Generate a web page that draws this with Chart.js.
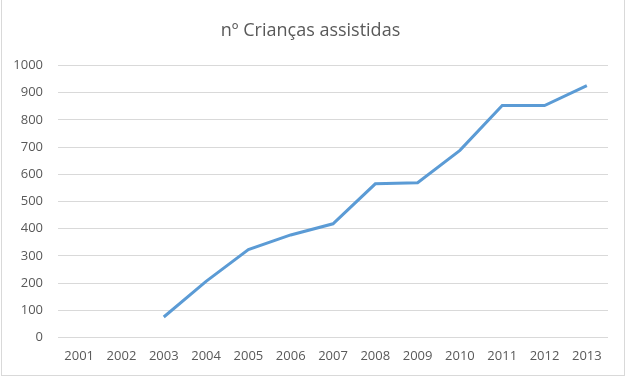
<!DOCTYPE html>
<html>
<head>
<meta charset="utf-8">
<script src="https://cdn.jsdelivr.net/npm/chart.js@4/dist/chart.umd.min.js"></script>
<style>
html,body{margin:0;padding:0;background:#fff;}
#wrap{position:relative;width:626px;height:378px;}
</style>
</head>
<body>
<div id="wrap"><canvas id="c" width="626" height="378"></canvas></div>
<script>
const categories = ['2001','2002','2003','2004','2005','2006','2007','2008','2009','2010','2011','2012','2013'];
const criancas = [null, null, 75, 206, 323, 377, 418, 565, 569, 688, 853, 853, 926];
const yTicks = [0,100,200,300,400,500,600,700,800,900,1000];
const chartTitle = 'nº Crianças assistidas';

const borderPlugin = {
  id: 'outerBorder',
  afterDraw(chart) {
    const ctx = chart.ctx;
    ctx.save();
    ctx.strokeStyle = '#d9d9d9';
    ctx.lineWidth = 1;
    ctx.strokeRect(1.5, -1, chart.width - 3, chart.height - 1.5);
    ctx.restore();
  }
};

new Chart(document.getElementById('c'), {
  type: 'line',
  data: {
    labels: categories,
    datasets: [{
      data: criancas,
      borderColor: '#5b9bd5',
      borderWidth: 3,
      pointRadius: 0,
      tension: 0,
      spanGaps: false,
      fill: false
    }]
  },
  options: {
    responsive: false,
    animation: false,
    devicePixelRatio: 1,
    layout: { padding: { left: 13, right: 18, top: 0, bottom: 3 } },
    plugins: {
      legend: { display: false },
      tooltip: { enabled: false },
      title: {
        display: true,
        text: chartTitle,
        color: '#595959',
        font: { family: 'Open Sans', size: 18, weight: 'normal', lineHeight: 1.2 },
        padding: { top: 20, bottom: 24 }
      }
    },
    scales: {
      x: {
        offset: true,
        grid: { display: false, drawTicks: false },
        border: { display: false },
        ticks: { color: '#595959', font: { family: 'Open Sans', size: 13 }, padding: 11, maxRotation: 0, autoSkip: false }
      },
      y: {
        min: 0, max: 1000,
        afterBuildTicks(axis) { axis.ticks = yTicks.map(v => ({ value: v })); },
        afterFit(axis) { axis.width = 45; },
        grid: { color: '#d9d9d9', lineWidth: 1, drawTicks: false },
        border: { display: false },
        ticks: { color: '#595959', font: { family: 'Open Sans', size: 13 }, padding: 15, callback: v => String(v) }
      }
    }
  },
  plugins: [borderPlugin]
});
</script>
</body>
</html>
